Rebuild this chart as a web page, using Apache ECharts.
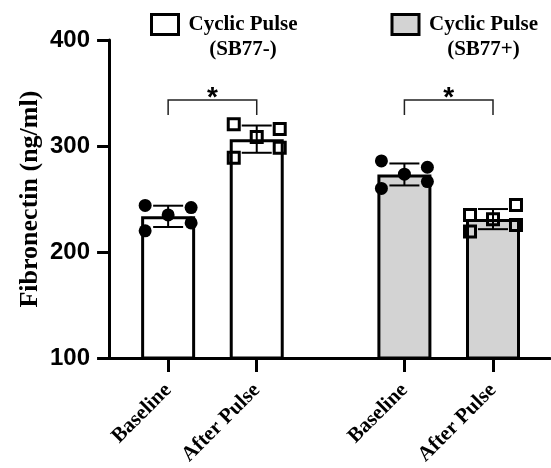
<!DOCTYPE html>
<html>
<head>
<meta charset="utf-8">
<script src="https://cdn.jsdelivr.net/npm/echarts@6/dist/echarts.min.js"></script>
<style>
  html, body { margin: 0; padding: 0; background: #fff; }
  #chart { width: 551px; height: 468px; }
</style>
</head>
<body>
<div id="chart"></div>
<script>
// data
const categories = ['Baseline', 'After Pulse', 'Baseline', 'After Pulse']
const groupNames = ['Cyclic Pulse\n(SB77-)', 'Cyclic Pulse\n(SB77+)']
const baselineMinus = [244, 242, 235, 227.5, 220]
const afterMinus = [320.5, 316, 308.5, 298.5, 289]
const baselinePlus = [286, 280, 273.5, 266.5, 260]
const afterPlus = [244.5, 235, 231, 225.5, 219.5]
const yTicks = [100, 200, 300, 400]
const yName = 'Fibronectin (ng/ml)'

// layout (slots on the x axis, jitter of the dots)
const slots = [2, 5, 10, 13]
const slotPx = 29.55
const jitter = [[-1, 1, 0, 1, -1], [-1, 1, 0, 1, -1], [-1, 1, 0, 1, -1], [1, -1, 0, 1, -1]]
const jitterPx = 23
const sigLevel = 343.5

const serif = '"Liberation Serif", "Times New Roman", serif'
const sans = '"Liberation Sans", Arial, sans-serif'

const groups = [baselineMinus, afterMinus, baselinePlus, afterPlus]
const mean = a => a.reduce((s, v) => s + v, 0) / a.length
const sd = a => {
  const m = mean(a)
  return Math.sqrt(a.reduce((s, v) => s + (v - m) * (v - m), 0) / (a.length - 1))
}
const stats = groups.map((g, i) => [slots[i], mean(g), sd(g)])

const dots = (idx) => {
  const out = []
  idx.forEach(i => {
    groups[i].forEach((v, k) => {
      out.push([slots[i] + jitter[i][k] * jitterPx / slotPx, v])
    })
  })
  return out
}

const chart = echarts.init(document.getElementById('chart'))

chart.setOption({
  animation: false,
  grid: { left: 107, right: 1, top: 40, bottom: 109 },
  legend: {
    left: 150,
    top: 13,
    padding: 0,
    icon: 'rect',
    itemWidth: 27,
    itemHeight: 20,
    itemGap: 88,
    data: groupNames,
    itemStyle: { borderColor: '#000', borderWidth: 3 },
    formatter: n => n.split('\n').map(s => '{c|' + s + '}').join('\n'),
    textStyle: {
      padding: [25, 0, 0, 0],
      rich: {
        c: {
          width: 119,
          align: 'center',
          fontFamily: serif,
          fontWeight: 'bold',
          fontSize: 21,
          lineHeight: 25,
          color: '#000'
        }
      }
    }
  },
  xAxis: {
    type: 'value',
    min: -0.07,
    max: 14.93,
    z: 10,
    splitLine: { show: false },
    axisLine: { lineStyle: { color: '#000', width: 3 } },
    axisTick: { customValues: slots, length: 14, lineStyle: { color: '#000', width: 3 } },
    axisLabel: {
      customValues: slots,
      rotate: 45,
      margin: 29,
      formatter: v => categories[slots.indexOf(v)] || '',
      fontFamily: serif,
      fontWeight: 'bold',
      fontSize: 21,
      color: '#000'
    }
  },
  yAxis: {
    type: 'value',
    min: yTicks[0],
    max: yTicks[yTicks.length - 1],
    interval: 100,
    z: 10,
    name: yName,
    nameLocation: 'middle',
    nameRotate: 90,
    nameGap: 64,
    nameMoveOverlap: false,
    nameTextStyle: { fontFamily: serif, fontWeight: 'bold', fontSize: 26, color: '#000' },
    splitLine: { show: false },
    axisLine: { show: true, lineStyle: { color: '#000', width: 3 } },
    axisTick: { show: true, length: 12, lineStyle: { color: '#000', width: 3 } },
    axisLabel: { margin: 17, fontFamily: sans, fontWeight: 'bold', fontSize: 24, color: '#000' }
  },
  series: [
    {
      name: groupNames[0],
      type: 'bar',
      barWidth: 54,
      barGap: '-100%',
      itemStyle: { color: '#fff', borderColor: '#000', borderWidth: 3 },
      data: [stats[0].slice(0, 2), stats[1].slice(0, 2)]
    },
    {
      name: groupNames[1],
      type: 'bar',
      barWidth: 54,
      barGap: '-100%',
      itemStyle: { color: '#d3d3d3', borderColor: '#000', borderWidth: 3 },
      data: [stats[2].slice(0, 2), stats[3].slice(0, 2)]
    },
    {
      // mean +/- SD
      type: 'custom',
      z: 3,
      data: stats,
      renderItem: (params, api) => {
        const x = api.value(0)
        const m = api.value(1)
        const s = api.value(2)
        const hi = api.coord([x, m + s])
        const lo = api.coord([x, m - s])
        const w = 15
        const st = { stroke: '#000', lineWidth: 2 }
        return {
          type: 'group',
          children: [
            { type: 'line', shape: { x1: hi[0], y1: hi[1], x2: lo[0], y2: lo[1] }, style: st },
            { type: 'line', shape: { x1: hi[0] - w, y1: hi[1], x2: hi[0] + w, y2: hi[1] }, style: st },
            { type: 'line', shape: { x1: lo[0] - w, y1: lo[1], x2: lo[0] + w, y2: lo[1] }, style: st }
          ]
        }
      }
    },
    {
      type: 'scatter',
      z: 4,
      symbol: 'circle',
      symbolSize: 13,
      itemStyle: { color: '#000', opacity: 1 },
      data: dots([0, 2])
    },
    {
      type: 'scatter',
      z: 4,
      symbol: 'rect',
      symbolSize: 11,
      itemStyle: { color: 'rgba(0,0,0,0)', borderColor: '#000', borderWidth: 3, opacity: 1 },
      data: dots([1, 3])
    },
    {
      // significance brackets
      type: 'custom',
      z: 3,
      clip: false,
      data: [[slots[0], slots[1], sigLevel], [slots[2], slots[3], sigLevel]],
      renderItem: (params, api) => {
        const a = api.coord([api.value(0), api.value(2)])
        const b = api.coord([api.value(1), api.value(2)])
        return {
          type: 'group',
          children: [
            {
              type: 'polyline',
              shape: { points: [[a[0], a[1] + 15], a, b, [b[0], b[1] + 15]] },
              style: { stroke: '#222', lineWidth: 1.5, fill: null }
            },
            {
              type: 'text',
              x: (a[0] + b[0]) / 2,
              y: a[1] - 16,
              style: {
                text: '*',
                fontFamily: sans,
                fontWeight: 'bold',
                fontSize: 28,
                fill: '#000',
                align: 'center',
                verticalAlign: 'top'
              }
            }
          ]
        }
      }
    }
  ]
})
</script>
</body>
</html>
